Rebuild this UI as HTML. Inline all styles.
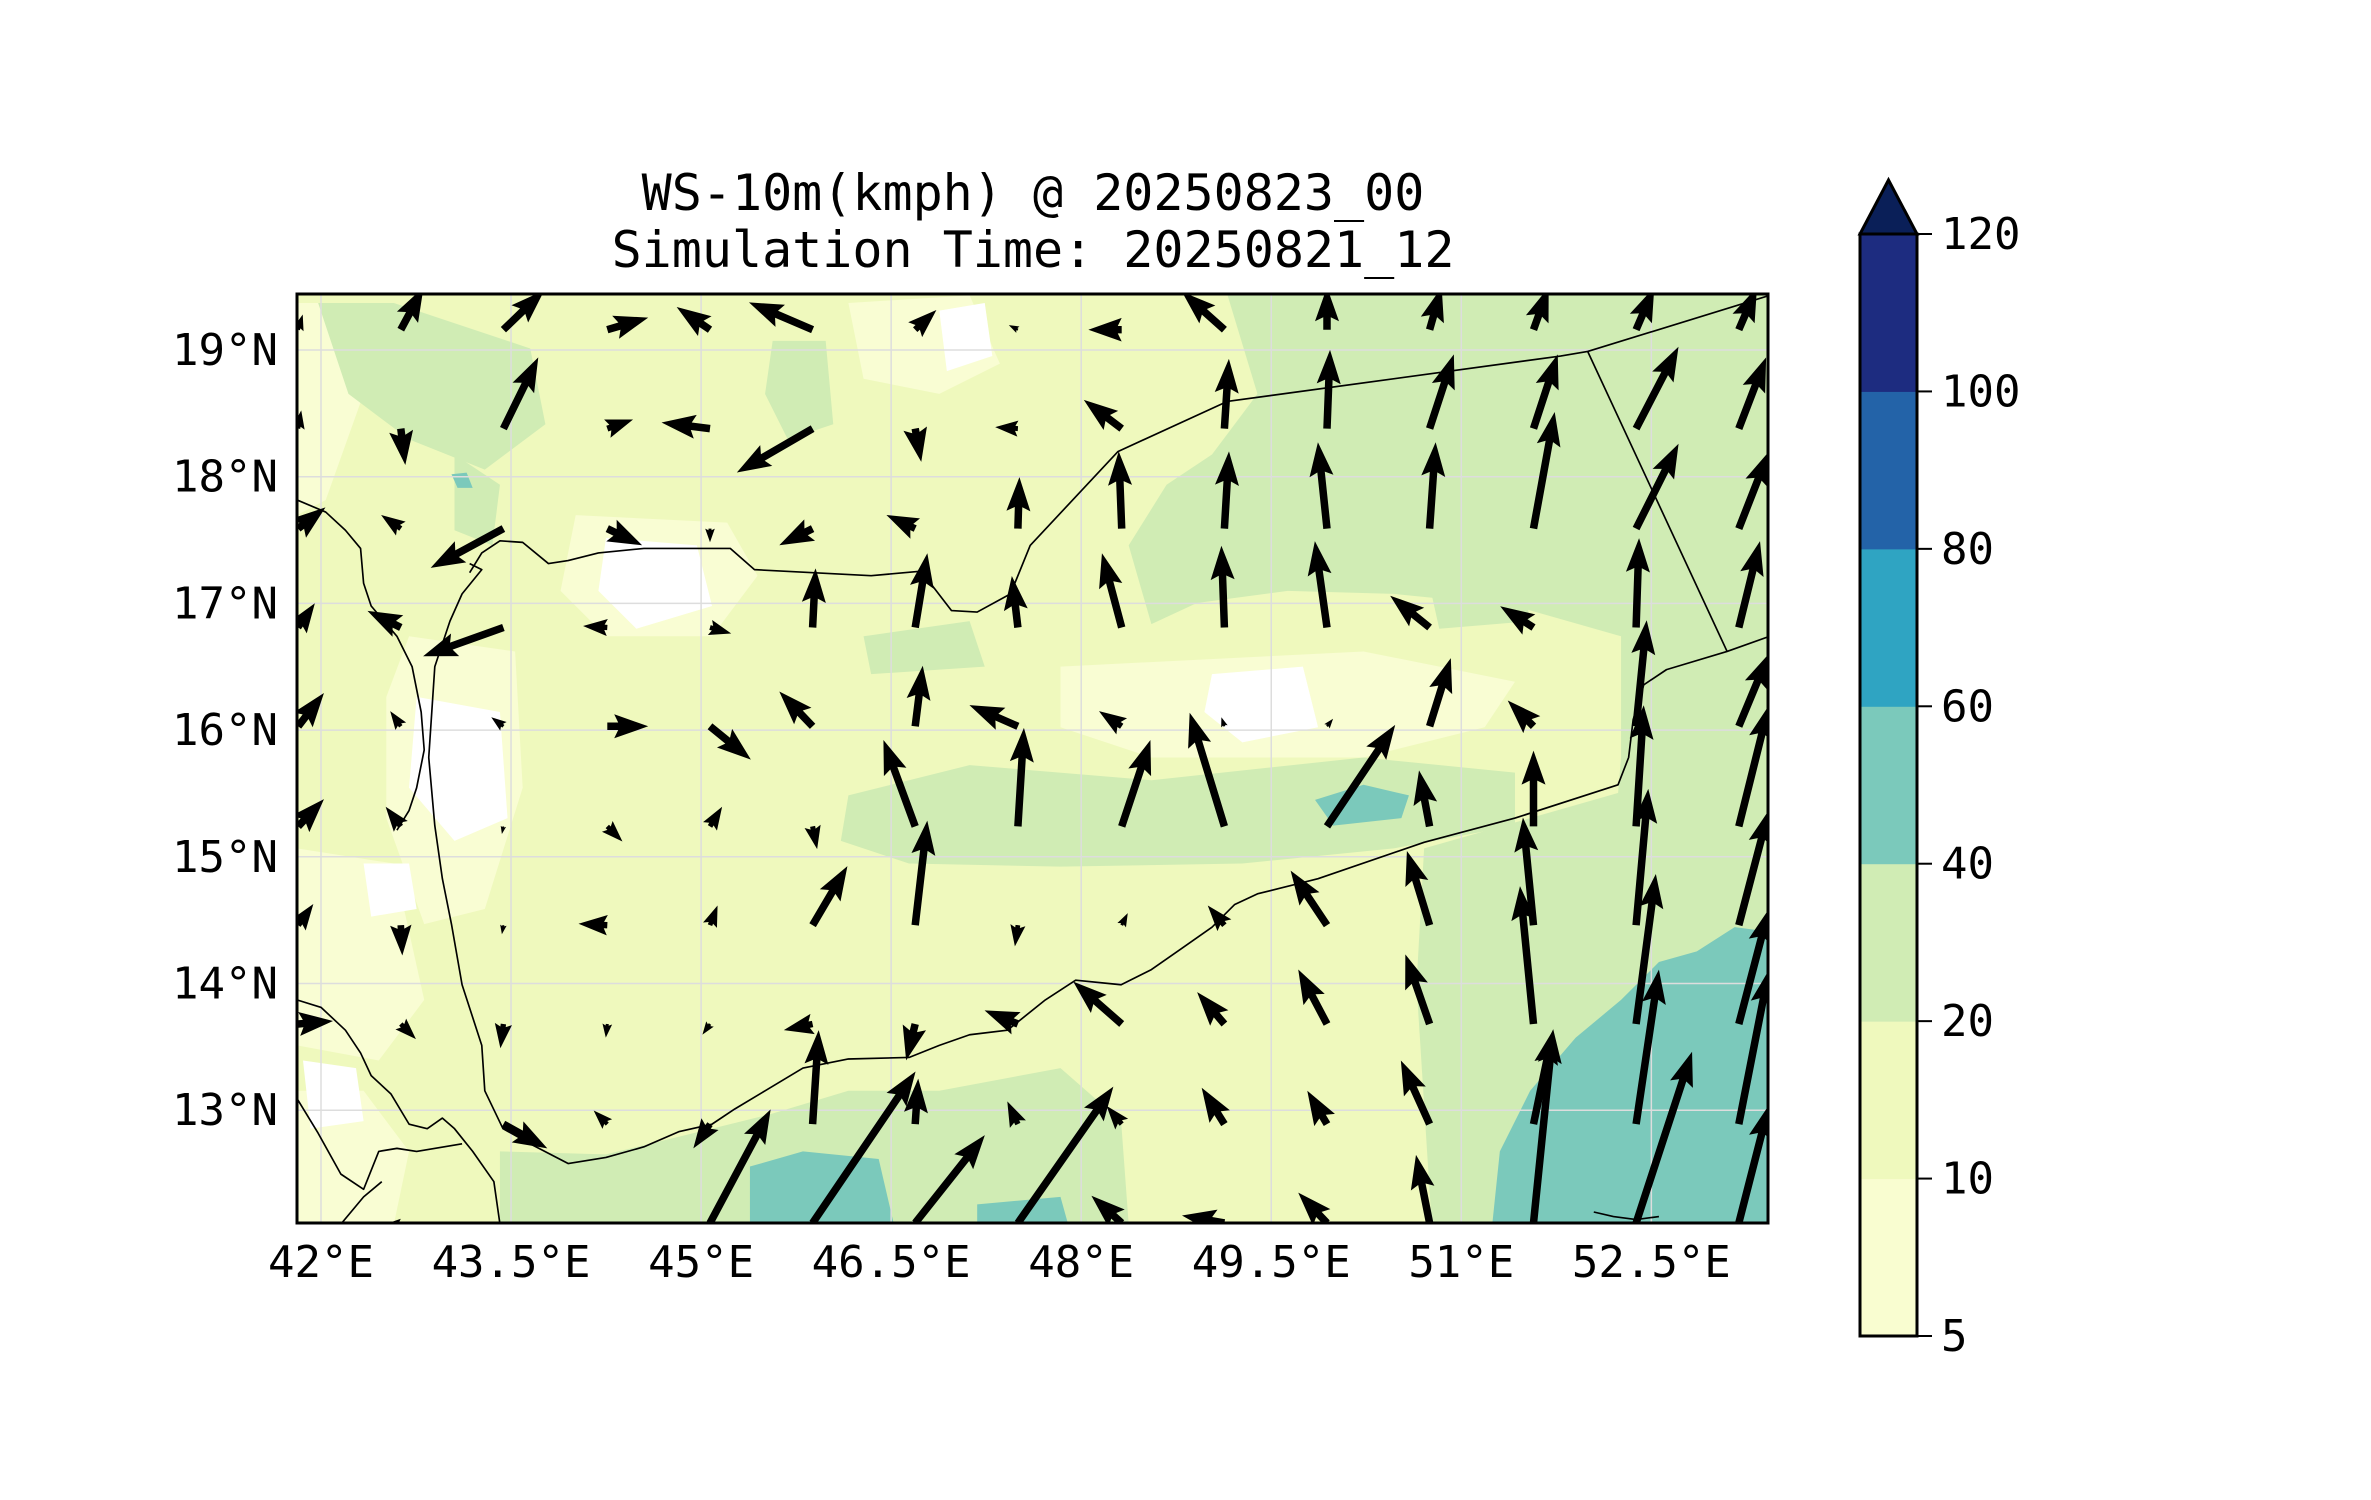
<!DOCTYPE html>
<html><head><meta charset="utf-8">
<style>
html,body{margin:0;padding:0;background:#fff;}
svg{display:block;font-family:"DejaVu Sans Mono","Liberation Mono",monospace;}
</style></head>
<body>
<svg id="fig" width="2371" height="1500" viewBox="0 0 2371 1500" xmlns="http://www.w3.org/2000/svg">
<defs><clipPath id="mapclip"><rect x="297" y="294" width="1471" height="929"/></clipPath></defs>
<text x="1033" y="210" font-size="50" text-anchor="middle">WS-10m(kmph) @ 20250823_00</text>
<text x="1033" y="267" font-size="50" text-anchor="middle">Simulation Time: 20250821_12</text>

<g id="map" clip-path="url(#mapclip)">
 <rect x="297" y="294" width="1471" height="929" fill="#eff9bd"/>
 <g transform="scale(1.515)">
  <path fill="#f9fdd3" d="M196 200 L230 200 L240 260 L215 330 L196 340Z"/>
  <path fill="#f9fdd3" d="M380 340 L480 345 L500 380 L470 420 L400 420 L370 390Z"/>
  <path fill="#f9fdd3" d="M270 420 L340 430 L345 520 L320 600 L280 610 L255 540 L255 460Z"/>
  <path fill="#f9fdd3" d="M196 560 L260 570 L280 660 L250 700 L196 690Z"/>
  <path fill="#f9fdd3" d="M560 200 L640 195 L660 240 L620 260 L570 250Z"/>
  <path fill="#f9fdd3" d="M700 440 L900 430 L1000 450 L980 480 L900 500 L760 500 L700 480Z"/>
  <path fill="#f9fdd3" d="M196 720 L240 720 L270 760 L260 808 L196 808Z"/>
  <path fill="#fff" d="M275 460 L330 470 L335 540 L300 555 L270 520Z"/>
  <path fill="#fff" d="M400 355 L460 360 L470 400 L420 415 L395 390Z"/>
  <path fill="#fff" d="M800 445 L860 440 L870 480 L820 490 L795 470Z"/>
  <path fill="#fff" d="M620 205 L650 200 L655 235 L625 245Z"/>
  <path fill="#fff" d="M240 570 L270 570 L275 600 L245 605Z"/>
  <path fill="#fff" d="M200 700 L235 705 L240 740 L205 745Z"/>
  <path fill="#d0ecb4" d="M810 194 L1168 194 L1168 440 L1100 440 L1070 420 L1000 400 L920 392 L850 390 L790 398 L760 412 L745 360 L770 320 L800 300 L830 260Z"/>
  <path fill="#d0ecb4" d="M1070 420 L1168 420 L1168 808 L1080 808 L1060 620 L1070 500Z"/>
  <path fill="#d0ecb4" d="M940 560 L1080 520 L1100 808 L945 808 L935 650Z"/>
  <path fill="#d0ecb4" d="M560 525 L640 505 L760 515 L900 500 L1000 510 L1000 545 L920 560 L820 570 L700 572 L600 570 L555 555Z"/>
  <path fill="#d0ecb4" d="M210 200 L260 200 L350 230 L360 280 L320 310 L270 290 L230 260Z"/>
  <path fill="#d0ecb4" d="M300 300 L330 320 L325 360 L300 350Z"/>
  <path fill="#d0ecb4" d="M510 225 L545 225 L550 280 L520 290 L505 260Z"/>
  <path fill="#d0ecb4" d="M330 760 L400 762 L470 745 L510 735 L560 720 L620 720 L700 705 L740 740 L745 808 L330 808Z"/>
  <path fill="#d0ecb4" d="M940 370 L1000 355 L1010 410 L950 415Z"/>
  <path fill="#d0ecb4" d="M570 420 L640 410 L650 440 L575 445Z"/>
  <path fill="#7bc9bb" d="M985 808 L990 760 L1010 720 L1040 685 L1070 660 L1095 635 L1120 628 L1145 612 L1168 615 L1168 808Z"/>
  <path fill="#7bc9bb" d="M495 770 L530 760 L580 765 L590 808 L495 808Z"/>
  <path fill="#7bc9bb" d="M645 795 L700 790 L705 808 L645 808Z"/>
  <path fill="#7bc9bb" d="M868 528 L900 518 L930 525 L925 540 L880 545Z"/>
  <path fill="#7bc9bb" d="M298 313 L308 312 L312 322 L302 322Z"/>
 </g>
 <g id="grid" stroke="#ddd" stroke-width="1.5"></g>
 <g transform="scale(1.515)" fill="none" stroke="#000" stroke-width="1.1" stroke-linejoin="round">
  <polyline points="310,378 318,365 330,357 345,358 362,372 375,370 395,365 425,362 482,362 498,376 575,380 608,377 628,403 645,404 667,392 680,360 738,298 810,265 1030,235 1048,232 1168,195"/>
  <polyline points="1048,232 1140,430"/>
  <polyline points="1168,420 1140,430 1100,442 1085,452 1078,475 1075,500 1068,518 1000,540 940,556 870,580 830,590 815,597 800,612 780,626 760,640 740,650 710,647 690,660 665,680 640,683 620,690 600,698 560,699 530,705 505,720 485,732 470,742 448,747 425,757 400,764 375,768 350,755 332,745 320,720 318,690 305,650 298,610 292,580 287,545 283,500 285,470 287,440 297,410 305,392 318,376 310,372"/>
  <polyline points="196,330 215,338 228,350 238,362 240,385 245,400 262,420 272,440 278,470 280,495 275,520 270,535 262,548"/>
  <polyline points="196,660 212,665 228,680 238,695 245,710 258,722 270,742 282,745 292,738 300,745 312,760 326,780 330,808"/>
  <polyline points="196,725 210,748 225,775 240,785 250,760 262,758 275,760 305,755"/>
  <polyline points="225,808 240,790 252,780"/>
  <polyline points="1052,800 1065,803 1080,805 1095,803"/>
 </g>
 <g id="arrows"></g>
</g>
<rect x="297" y="294" width="1471" height="929" fill="none" stroke="#000" stroke-width="3"/>
<g id="xticks"></g>
<g id="yticks"></g>
<g id="cbar"></g>
</svg>
<script>
const lonTicks = [42, 43.5, 45, 46.5, 48, 49.5, 51, 52.5];
const lonTickLabels = ["42°E","43.5°E","45°E","46.5°E","48°E","49.5°E","51°E","52.5°E"];
const latTicks = [13, 14, 15, 16, 17, 18, 19];
const latTickLabels = ["13°N","14°N","15°N","16°N","17°N","18°N","19°N"];
const cbarLevels = [5, 10, 20, 40, 60, 80, 100, 120];
const cbarColors = ["#f9fdd0","#eff9bd","#d0ecb4","#7bc9bb","#2fa4c2","#2363a8","#1d2c80"];
const cbarExtendColor = "#0a1f58";
const gridLons = [41.82,42.63,43.44,44.26,45.07,45.88,46.69,47.5,48.32,49.13,49.94,50.75,51.57,52.38,53.19];
const gridLats = [19.16,18.38,17.59,16.81,16.03,15.24,14.46,13.68,12.89,12.11];
const uRows = [
 [3,15,27,27,-22,-42,14,-6,-22,-28,0,8,10,12,12],
 [2,3,23,17,-32,-50,4,-15,-25,3,2,16,16,28,18],
 [18,-13,-48,23,0,-22,-19,1,-2,3,-6,4,14,28,20],
 [11,-22,-53,-16,14,2,8,-4,-13,-2,-8,-26,-22,2,14],
 [17,-7,-8,27,27,-22,5,-32,-15,-2,4,14,-17,7,20],
 [17,-10,-1,10,8,3,-21,4,19,-23,45,-7,0,5,20],
 [10,1,-1,-19,5,23,8,-2,4,-11,-24,-15,-7,8,20],
 [23,10,-2,-1,-5,-19,-6,-22,-32,-18,-19,-16,-9,13,20],
 [0,0,29,-9,-11,4,2,-7,-10,-15,-13,-19,13,15,20],
 [0,-8,0,0,40,68,46,63,-20,-28,-19,-9,13,37,20]
];
const vRows = [
 [10,28,26,8,15,18,13,3,0,25,28,28,28,28,28],
 [12,-24,47,6,4,-29,-22,1,19,46,52,49,49,54,47],
 [14,9,-26,-11,-9,-11,9,34,51,51,57,57,77,56,51],
 [16,11,-19,1,-4,39,49,34,49,54,57,21,14,59,57],
 [22,10,6,0,-22,23,40,14,10,6,5,45,17,70,48],
 [18,13,-5,-10,13,-15,57,65,57,75,67,37,50,80,80],
 [14,-20,-6,1,13,39,69,-14,8,13,36,49,71,90,76],
 [2,-10,-16,-9,-7,-4,-24,9,28,21,36,46,91,99,76],
 [0,0,-16,9,-16,62,30,15,12,24,22,42,62,102,102],
 [0,0,0,0,75,100,58,90,18,5,20,45,128,113,78]
];
const NS="http://www.w3.org/2000/svg";
const X0=321, PXDEG=126.7, Y0=350, S=1.515;
function xOf(lon){return X0+(lon-42)*PXDEG;}
function yOf(lat){return Y0-(lat-19)*PXDEG;}
function mk(tag,attrs,parent){const e=document.createElementNS(NS,tag);for(const k in attrs)e.setAttribute(k,attrs[k]);parent.appendChild(e);return e;}

const grid=document.getElementById('grid');
lonTicks.forEach(l=>{const ln=mk('line',{x1:xOf(l),x2:xOf(l),y1:294,y2:1223},grid);

});
latTicks.forEach(l=>{const ln=mk('line',{x1:297,x2:1768,y1:yOf(l),y2:yOf(l)},grid);

});

const xt=document.getElementById('xticks');
lonTicks.forEach((l,i)=>{const t=mk('text',{x:xOf(l),y:1277,'font-size':44,'text-anchor':'middle'},xt);t.textContent=lonTickLabels[i];

});
const yt=document.getElementById('yticks');
latTicks.forEach((l,i)=>{const t=mk('text',{x:278,y:yOf(l)+15,'font-size':44,'text-anchor':'end'},yt);t.textContent=latTickLabels[i];

});

const ag=document.getElementById('arrows');
const W=7.5, HW=24, HL=34, HAL=30;
for(let j=0;j<gridLats.length;j++){for(let i=0;i<gridLons.length;i++){
 const u=uRows[j][i], v=vRows[j][i];
 const L=Math.hypot(u,v)*S; if(L<3) continue;
 const ang=Math.atan2(-v,u)*180/Math.PI;
 let pts;
 if(L>=HL){pts=[[0,-W/2],[L-HAL,-W/2],[L-HL,-HW/2],[L,0],[L-HL,HW/2],[L-HAL,W/2],[0,W/2]];}
 else{const k=L/HL;pts=[[0,-W/2],[HL-HAL,-W/2],[0,-HW/2],[HL,0],[0,HW/2],[HL-HAL,W/2],[0,W/2]].map(p=>[p[0]*k,p[1]*k]);}
 const p=mk('polygon',{points:pts.map(q=>q.join(',')).join(' '),fill:'#000',
  transform:`translate(${xOf(gridLons[i]).toFixed(1)},${yOf(gridLats[j]).toFixed(1)}) rotate(${ang.toFixed(1)})`},ag);
 
 
}}

const cb=document.getElementById('cbar');
const CX=1860, CW=57, CTOP=234, CBOT=1336, step=(CBOT-CTOP)/(cbarLevels.length-1);
cbarColors.forEach((c,i)=>{const r=mk('rect',{x:CX,y:CBOT-(i+1)*step,width:CW,height:step+0.5,fill:c},cb);

});
const tri=mk('polygon',{points:`${CX},${CTOP} ${CX+CW/2},${CTOP-54} ${CX+CW},${CTOP}`,fill:cbarExtendColor,stroke:'#000','stroke-width':3},cb);


const fr=mk('rect',{x:CX,y:CTOP,width:CW,height:CBOT-CTOP,fill:'none',stroke:'#000','stroke-width':3},cb);


cbarLevels.forEach((lv,i)=>{const y=CBOT-i*step;
 const tk=mk('line',{x1:CX+CW,x2:CX+CW+15,y1:y,y2:y,stroke:'#000','stroke-width':2},cb);
 
 
 const t=mk('text',{x:CX+CW+24,y:y+15,'font-size':44},cb);t.textContent=lv;
 
 });
</script>
</body></html>
